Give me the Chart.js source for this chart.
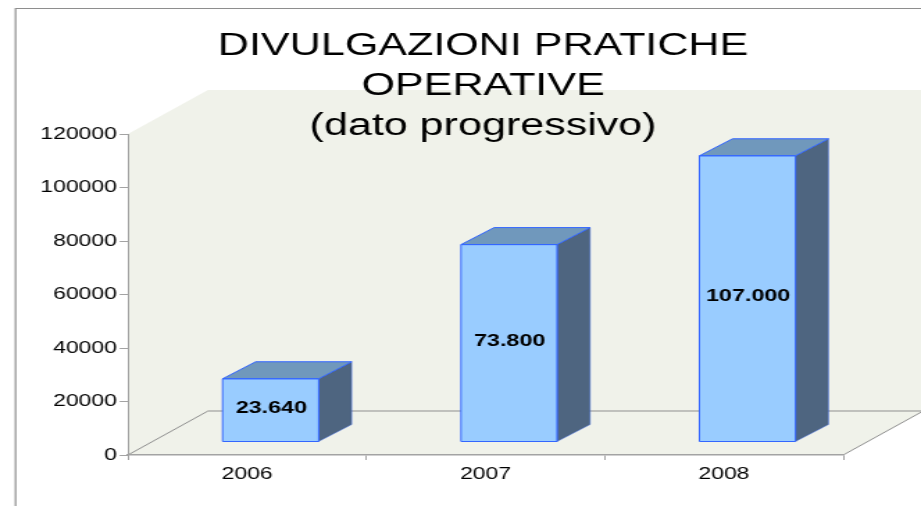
<!DOCTYPE html>
<html>
<head>
<meta charset="utf-8">
<style>
html,body{margin:0;padding:0;background:#fff;overflow:hidden;width:921px;height:506px}
#wrap{width:663px;height:506px;transform:scaleX(1.38914);transform-origin:0 0}
canvas{display:block}
</style>
<script src="https://cdn.jsdelivr.net/npm/chart.js@4"></script>
</head>
<body>
<div id="wrap"><canvas id="c" width="663" height="506"></canvas></div>
<script>
const titleLines = ['DIVULGAZIONI PRATICHE', 'OPERATIVE', '(dato progressivo)'];
const categories = ['2006', '2007', '2008'];
const values = [23640, 73800, 107000];
const valueLabels = ['23.640', '73.800', '107.000'];
const yMin = 0, yMax = 120000, yStep = 20000;

const colors = {front:'#99ccff', edge:'#3366ff', top:'#7098bc', side:'#4e6580',
  wall:'#f0f2ea', grid:'#8f8f8f', axis:'#a3a3a3', frame:'#8e8e8e', text:'#000000'};
const FONT = '"Liberation Sans", Arial, sans-serif';

// 3D projection (unstretched canvas px)
const WALL = {dx:57.6, dy:-44};   // floor/wall depth
const BAR  = {sx:16.9, sy:-13, dx:23.8, dy:-17}; // bar shift and depth

const scene = {
  id:'scene',
  beforeDraw(chart){
    const {ctx, chartArea:a} = chart;
    ctx.save();
    // outer frame
    ctx.strokeStyle = colors.frame; ctx.lineWidth = 1.2;
    ctx.beginPath(); ctx.moveTo(11.2,506); ctx.lineTo(11.2,8.5); ctx.lineTo(663,8.5); ctx.stroke();
    // wall + floor silhouette
    const bx = a.right + WALL.dx, by = a.bottom + WALL.dy;
    ctx.fillStyle = colors.wall;
    ctx.beginPath();
    ctx.moveTo(a.left,a.top);
    ctx.lineTo(a.left+WALL.dx,a.top+WALL.dy);
    ctx.lineTo(bx,a.top+WALL.dy);
    ctx.lineTo(bx,by);
    ctx.lineTo(a.right,a.bottom);
    ctx.lineTo(a.left,a.bottom);
    ctx.closePath(); ctx.fill();
    // floor lines
    ctx.strokeStyle = colors.grid; ctx.lineWidth = 1;
    ctx.beginPath();
    ctx.moveTo(a.left,a.bottom); ctx.lineTo(a.left+WALL.dx,by); ctx.lineTo(bx,by); ctx.lineTo(a.right,a.bottom);
    ctx.stroke();
    ctx.restore();
  },
  afterLayout(chart){
    chart.titleBlock.left -= 3.6;
  },
  beforeDatasetDraw(chart){
    chart.ctx.save();
    chart.ctx.translate(BAR.sx, BAR.sy);
  },
  afterDatasetDraw(chart, args){
    const ctx = chart.ctx;
    args.meta.data.forEach((el, i) => {
      const p = el.getProps(['x','y','base','width'], true);
      const l = p.x - p.width/2, r = p.x + p.width/2;
      // side face
      ctx.fillStyle = colors.side;
      ctx.strokeStyle = 'rgba(51,102,255,0.45)'; ctx.lineWidth = 0.8;
      ctx.beginPath();
      ctx.moveTo(r,p.y); ctx.lineTo(r+BAR.dx,p.y+BAR.dy); ctx.lineTo(r+BAR.dx,p.base+BAR.dy); ctx.lineTo(r,p.base);
      ctx.closePath(); ctx.fill(); ctx.stroke();
      // top face
      ctx.fillStyle = colors.top;
      ctx.strokeStyle = colors.edge; ctx.lineWidth = 1;
      ctx.beginPath();
      ctx.moveTo(l,p.y); ctx.lineTo(l+BAR.dx,p.y+BAR.dy); ctx.lineTo(r+BAR.dx,p.y+BAR.dy); ctx.lineTo(r,p.y);
      ctx.closePath(); ctx.fill(); ctx.stroke();
      // front face outline
      ctx.beginPath(); ctx.rect(l,p.y,r-l,p.base-p.y); ctx.stroke();
      // value label
      ctx.fillStyle = colors.text;
      ctx.font = 'bold 16.8px ' + FONT;
      ctx.textAlign = 'center'; ctx.textBaseline = 'middle';
      ctx.fillText(valueLabels[i], p.x + 0.5, (p.y + p.base)/2 - 1.8);
    });
    ctx.restore();
  }
};

new Chart(document.getElementById('c'), {
  type:'bar',
  data:{labels:categories, datasets:[{
    data:values,
    backgroundColor:colors.front,
    borderColor:colors.edge,
    borderWidth:0,
    barPercentage:0.403,
    categoryPercentage:1,
    clip:false
  }]},
  options:{
    responsive:false,
    animation:false,
    layout:{padding:{left:0,top:0,right:56,bottom:0}},
    plugins:{
      legend:{display:false},
      tooltip:{enabled:false},
      title:{
        display:true,
        text:titleLines,
        fullSize:false,
        color:colors.text,
        font:{family:FONT,size:31,weight:'normal',lineHeight:'40px'},
        padding:{top:26.5,bottom:-12.5}
      }
    },
    scales:{
      x:{
        afterFit(s){ s.height = 51; },
        grid:{drawOnChartArea:false,color:colors.axis,tickLength:5},
        border:{color:colors.axis,width:1.5},
        ticks:{color:colors.text,font:{family:FONT,size:16.5},padding:5,maxRotation:0}
      },
      y:{
        min:yMin,max:yMax,
        afterFit(s){ s.width = 92.1; },
        grid:{drawOnChartArea:false,color:colors.axis,tickLength:6},
        border:{color:colors.axis,width:1},
        ticks:{stepSize:yStep,color:colors.text,font:{family:FONT,size:16.5},padding:2,
          callback:v=>String(v)}
      }
    }
  },
  plugins:[scene]
});
</script>
</body>
</html>
